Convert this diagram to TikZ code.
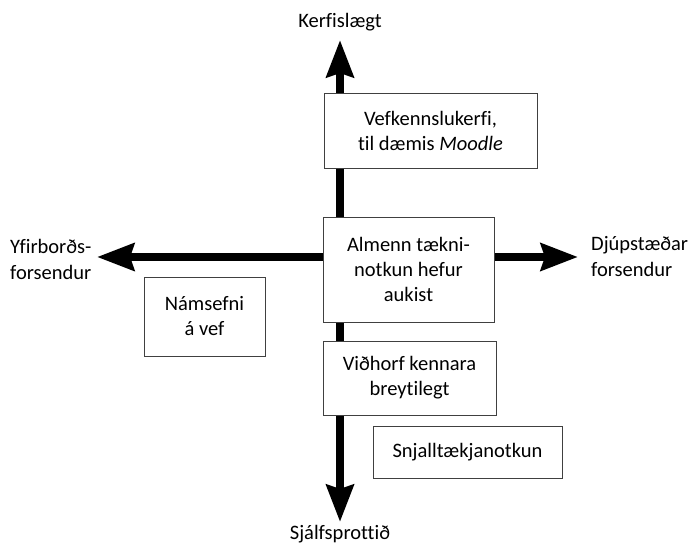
\documentclass[tikz,border=0pt]{standalone}
\usepackage{fontspec}
\setmainfont[Ligatures=NoCommon]{Carlito}
\usepackage{tikz}
\usetikzlibrary{arrows.meta}

\begin{document}
\begin{tikzpicture}[x=1pt,y=-1pt,
  axis/.style={line width=8pt,-{Stealth[length=37pt,width=27pt,inset=4pt]}},
  box/.style={draw=black!75,line width=0.8pt,fill=white,inner sep=0pt,align=center,
    font=\fontsize{20.5}{25}\selectfont},
  lbl/.style={inner sep=0pt,font=\fontsize{20.5}{26}\selectfont}]
\useasboundingbox (0,0) rectangle (694,548);
% axes, sharing one origin
\coordinate (o) at (340,257);
\coordinate (up) at (340,40);
\coordinate (down) at (340,522);
\coordinate (left) at (97,257);
\coordinate (right) at (578,257);
\draw[axis] (o) -- (up);
\draw[axis] (o) -- (down);
\draw[axis] (o) -- (left);
\draw[axis] (o) -- (right);
% axis labels
\node[lbl] (kerf) at (340,22) {Kerfislægt};
\node[lbl] (sjalf) at (340,534) {Sjálfsprottið};
\node[lbl,anchor=west,align=left] (yfir) at (10,259) {Yfirborðs-\\forsendur};
\node[lbl,anchor=west,align=left] (djup) at (591,257) {Djúpstæðar\\forsendur};
% boxes
\node[box,minimum width=213pt,minimum height=75pt] (vef) at (430.5,130.5) {Vefkennslukerfi,\\til dæmis \textit{Moodle}};
\node[box,minimum width=171pt,minimum height=105pt] (almenn) at (408.5,269.5) {Almenn tækni-\\notkun hefur\\aukist};
\node[box,minimum width=173pt,minimum height=74pt] (vidhorf) at (409.5,378) {Viðhorf kennara\\breytilegt};
\node[box,minimum width=189pt,minimum height=52pt] (snjall) at (467.5,452) {Snjalltækjanotkun};
\node[box,minimum width=121pt,minimum height=79pt] (nams) at (204.5,316.5) {Námsefni\\á vef};
\end{tikzpicture}
\end{document}
